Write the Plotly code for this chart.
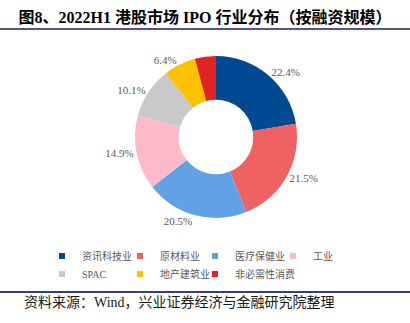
import plotly.graph_objects as go

categories = ["资讯科技业", "原材料业", "医疗保健业", "工业", "SPAC", "地产建筑业", "非必需性消费"]
shares = [22.4, 21.5, 20.5, 14.9, 10.1, 6.4, 4.2]
show_label = [True, True, True, True, True, True, False]
colors = ["#014A93", "#F06163", "#63A1E5", "#FFBACA", "#C9C9C9", "#FFC000", "#E02424"]

title_text = "图8、2022H1 港股市场 IPO 行业分布（按融资规模）"
source_text = "资料来源：Wind，兴业证券经济与金融研究院整理"

W, H = 410, 323
LAT = "Liberation Serif, Noto Sans CJK SC, serif"

# legend layout (pixels): 4 columns, 2 rows
col_marker_x = [62, 140, 215, 293]
row_y = [256, 274]
n_cols = 4

labels_txt = [f"{v:.1f}%" if s else "" for v, s in zip(shares, show_label)]

fig = go.Figure()
fig.add_trace(go.Pie(
    labels=categories, values=shares, text=labels_txt, textinfo="text",
    textposition="outside", sort=False, direction="clockwise", rotation=0,
    hole=0.46, marker=dict(colors=colors, line=dict(width=0)),
    textfont=dict(family=LAT, size=11, color="#595959"),
    showlegend=False, hoverinfo="label+value",
    domain=dict(x=[135 / W, 297 / W], y=[1 - 218.5 / H, 1 - 55.5 / H]),
))

legends = {}
for i, (c, col) in enumerate(zip(categories, colors)):
    key = "legend" if i == 0 else f"legend{i + 1}"
    fig.add_trace(go.Scatter(
        x=[None], y=[None], mode="markers", name=c,
        marker=dict(symbol="square", size=6, color=col),
        legend=key,
    ))
    r, k = divmod(i, n_cols)
    legends[key] = dict(
        orientation="h", xanchor="left", yanchor="middle",
        x=(col_marker_x[k] - 20) / W, y=1 - row_y[r] / H,
        font=dict(family=LAT, size=10, color="#595959"),
        bgcolor="rgba(0,0,0,0)", itemwidth=30,
    )

fig.update_layout(
    width=W, height=H, margin=dict(l=0, r=0, t=0, b=0),
    paper_bgcolor="white", plot_bgcolor="white",
    xaxis=dict(visible=False), yaxis=dict(visible=False),
    title=dict(text=f"<b>{title_text}</b>", x=0.5, xanchor="center", y=1 - 17 / H, yanchor="middle",
               font=dict(family=LAT, size=16, color="#000000")),
    shapes=[
        dict(type="line", xref="paper", yref="paper", x0=0, x1=1, y0=1 - 29 / H, y1=1 - 29 / H,
             line=dict(color="#56548A", width=2)),
        dict(type="line", xref="paper", yref="paper", x0=0, x1=1, y0=1 - 292 / H, y1=1 - 292 / H,
             line=dict(color="#3C3C7C", width=2)),
    ],
    annotations=[
        dict(text=source_text, xref="paper", yref="paper", x=22 / W, y=1 - 302 / H,
             xanchor="left", yanchor="middle", showarrow=False,
             font=dict(family=LAT, size=14, color="#1A1A1A")),
    ],
    **legends,
)

fig.write_html("out.html")
